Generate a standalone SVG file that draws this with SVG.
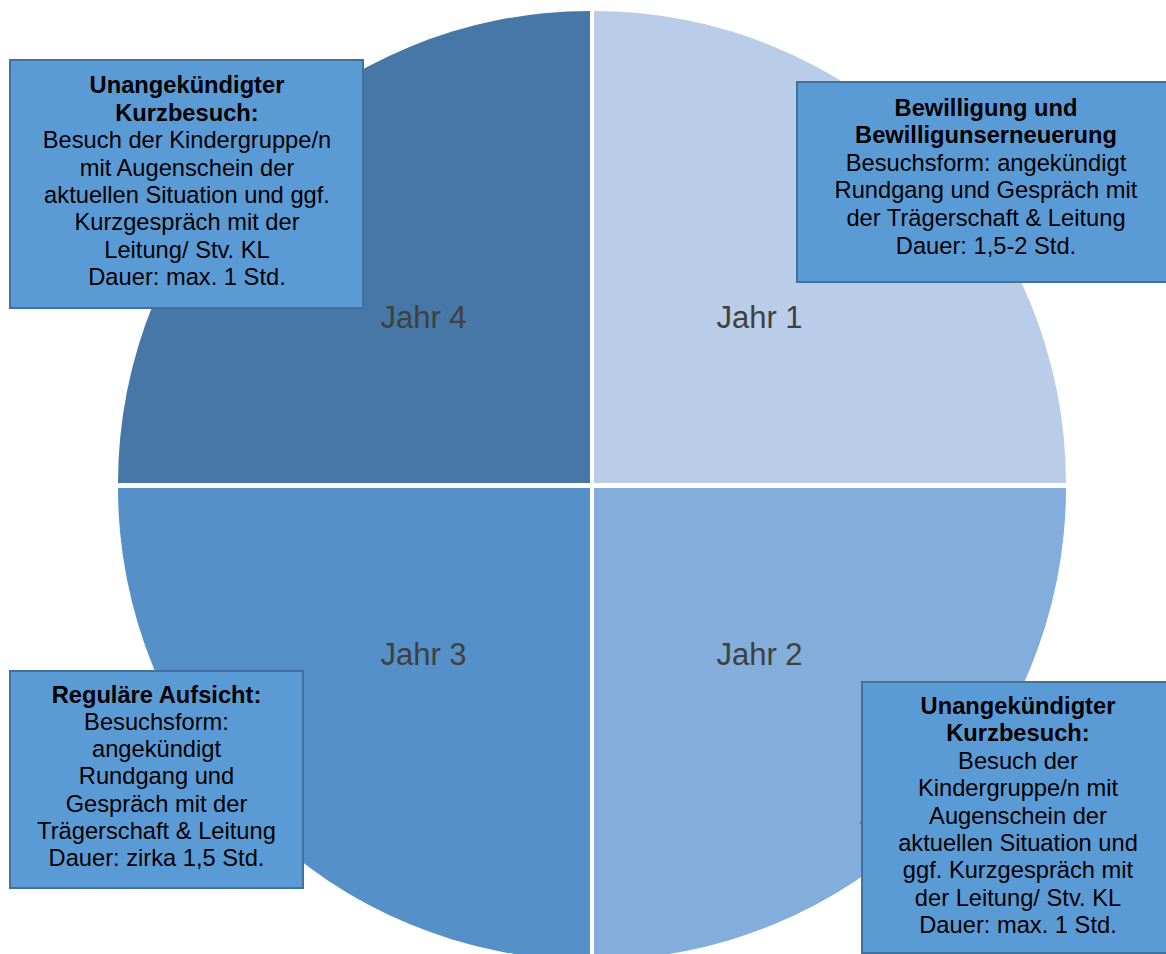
<svg xmlns="http://www.w3.org/2000/svg" width="1166" height="954" viewBox="0 0 1166 954">
<style>
.box{fill:#5B9BD5;stroke:#41719C;stroke-width:2}
.t{font-family:"Liberation Sans",Arial,sans-serif;font-size:23.7px;fill:#000;text-anchor:middle}
.b{font-weight:bold}
.jahr{font-family:"Liberation Sans",Arial,sans-serif;font-size:31px;fill:#404040;text-anchor:middle}
.tick{stroke:#41719C;stroke-width:2}
</style>
<rect width="1166" height="954" fill="#fff"/>
<g id="q4"><path d="M590,483 L118,483 A472,472 0 0 1 590,11 Z" fill="#4677A7"/><text class="jahr" x="423.5" y="328">Jahr 4</text></g>
<g id="q1"><path d="M594,483 L594,11 A472,472 0 0 1 1066,483 Z" fill="#B9CDE8"/><text class="jahr" x="759.5" y="328">Jahr 1</text></g>
<g id="q2"><path d="M594,488 L1066,488 A472,472 0 0 1 594,960 Z" fill="#83AEDB"/><text class="jahr" x="759.5" y="665">Jahr 2</text></g>
<g id="q3"><path d="M590,488 L590,960 A472,472 0 0 1 118,488 Z" fill="#5590C8"/><text class="jahr" x="423.5" y="665">Jahr 3</text></g>
<g id="connectors">
<line class="tick" x1="360" y1="187" x2="363" y2="187"/>
<line class="tick" x1="299" y1="781" x2="302" y2="781"/>
<line class="tick" x1="860" y1="823" x2="863" y2="823"/>
</g>
<g id="box1">
<rect class="box" x="10" y="60" width="353" height="248"/>
<text class="t b" x="187" y="93.3">Unangekündigter</text>
<text class="t b" x="187" y="120.7">Kurzbesuch:</text>
<text class="t" x="187" y="148.1">Besuch der Kindergruppe/n</text>
<text class="t" x="187" y="175.5">mit Augenschein der</text>
<text class="t" x="187" y="202.9">aktuellen Situation und ggf.</text>
<text class="t" x="187" y="230.3">Kurzgespräch mit der</text>
<text class="t" x="187" y="257.7">Leitung/ Stv. KL</text>
<text class="t" x="187" y="285.1">Dauer: max. 1 Std.</text>
</g>
<g id="box2">
<rect class="box" x="797" y="82" width="380" height="200"/>
<text class="t b" x="986" y="115.5">Bewilligung und</text>
<text class="t b" x="986" y="143.1">Bewilligunserneuerung</text>
<text class="t" x="986" y="170.7">Besuchsform: angekündigt</text>
<text class="t" x="986" y="198.3">Rundgang und Gespräch mit</text>
<text class="t" x="986" y="225.9">der Trägerschaft &amp; Leitung</text>
<text class="t" x="986" y="253.5">Dauer: 1,5-2 Std.</text>
</g>
<g id="box3">
<rect class="box" x="10" y="671" width="293" height="217"/>
<text class="t b" x="156.5" y="702.7">Reguläre Aufsicht:</text>
<text class="t" x="156.5" y="729.9">Besuchsform:</text>
<text class="t" x="156.5" y="757.1">angekündigt</text>
<text class="t" x="156.5" y="784.3">Rundgang und</text>
<text class="t" x="156.5" y="811.5">Gespräch mit der</text>
<text class="t" x="156.5" y="838.7">Trägerschaft &amp; Leitung</text>
<text class="t" x="156.5" y="865.9">Dauer: zirka 1,5 Std.</text>
</g>
<g id="box4">
<rect class="box" x="862" y="682" width="312" height="271"/>
<text class="t b" x="1018" y="714">Unangekündigter</text>
<text class="t b" x="1018" y="741.4">Kurzbesuch:</text>
<text class="t" x="1018" y="768.8">Besuch der</text>
<text class="t" x="1018" y="796.2">Kindergruppe/n mit</text>
<text class="t" x="1018" y="823.6">Augenschein der</text>
<text class="t" x="1018" y="851">aktuellen Situation und</text>
<text class="t" x="1018" y="878.4">ggf. Kurzgespräch mit</text>
<text class="t" x="1018" y="905.8">der Leitung/ Stv. KL</text>
<text class="t" x="1018" y="933.2">Dauer: max. 1 Std.</text>
</g>
</svg>
